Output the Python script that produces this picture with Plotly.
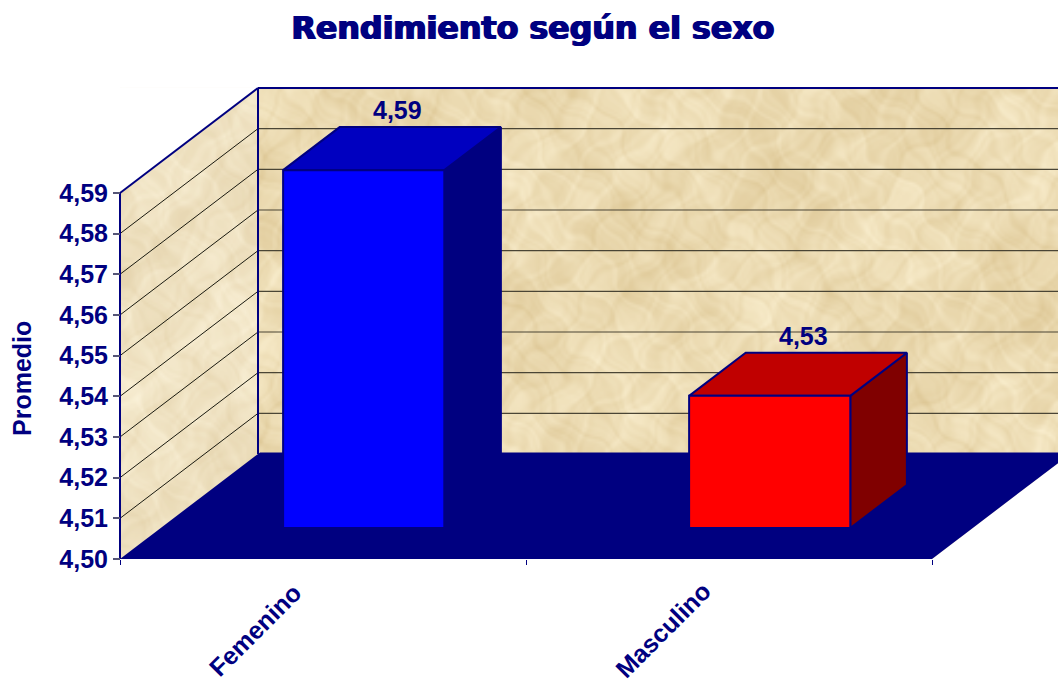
import base64
import struct
import zlib

import numpy as np
import plotly.graph_objects as go

categories = ["Femenino", "Masculino"]
values = [4.588, 4.5325]
value_labels = ["4,59", "4,53"]
front_colors = ["#0000FF", "#FF0000"]
top_colors = ["#0000C0", "#C00000"]
side_colors = ["#000080", "#800000"]
y_ticks = [4.50, 4.51, 4.52, 4.53, 4.54, 4.55, 4.56, 4.57, 4.58, 4.59]

NAVY = "#000080"
BASE, TOP = y_ticks[0], y_ticks[-1]
W, H = 1058, 684
PX_X = 406.0           # pixels per category
PX_Y = 4067.0          # pixels per value unit
DX, DY = 138 / PX_X, 105 / PX_Y   # full-depth oblique shift in axis units
BAR_W = 0.397
D0, D1 = 0.295, 0.705  # bar depth extent
FLOOR_D = 1.015
X0 = -120 / PX_X
X1 = (W - 120) / PX_X
Y1 = BASE + 559 / PX_Y


def parchment_uri(w=400, h=200):
    """Decorative mottled paper backdrop for the walls, built from layered waves."""
    yy, xx = np.mgrid[0:h, 0:w].astype(float)
    u = xx + 2.5 * np.sin(yy * 0.23 + 1.1) + 1.5 * np.sin(xx * 0.37 + yy * 0.11)
    v = yy + 2.5 * np.sin(xx * 0.19 + 0.4) + 1.5 * np.cos(yy * 0.41 - xx * 0.09)
    n = np.zeros_like(u)
    for a, fx, fy, ph in [(0.7, 0.031, 0.057, 0.3), (0.6, 0.083, -0.049, 2.1), (0.6, 0.137, 0.171, 4.0),
                          (0.5, -0.233, 0.197, 1.2), (0.5, 0.349, 0.283, 5.1), (0.45, 0.531, -0.437, 0.7),
                          (0.4, 0.713, 0.619, 3.3), (0.35, -0.887, 0.741, 2.6), (0.3, 1.171, 0.953, 1.9),
                          (0.3, -1.373, 1.127, 4.4)]:
        n += a * np.sin(fx * u + fy * v + ph)
    n = n / n.std()
    base = np.array([236, 219, 178], float)
    tint = np.array([4.0, 5.5, 8.0])
    rgb = np.clip(base[None, None, :] + n[..., None] * tint[None, None, :], 0, 255).astype(np.uint8)
    raw = b"".join(b"\x00" + rgb[r].tobytes() for r in range(h))

    def chunk(tag, data):
        return struct.pack(">I", len(data)) + tag + data + struct.pack(">I", zlib.crc32(tag + data) & 0xFFFFFFFF)

    png = (b"\x89PNG\r\n\x1a\n" + chunk(b"IHDR", struct.pack(">IIBBBBB", w, h, 8, 2, 0, 0, 0))
           + chunk(b"IDAT", zlib.compress(raw)) + chunk(b"IEND", b""))
    return "data:image/png;base64," + base64.b64encode(png).decode()


def proj(x, y, d):
    return x + d * DX, y + d * DY


def poly(points, fill, line=None, lw=0):
    xs, ys = zip(*[proj(*p) for p in points])
    return go.Scatter(
        x=list(xs) + [xs[0]], y=list(ys) + [ys[0]], mode="lines", fill="toself",
        fillcolor=fill, line=dict(color=line or fill, width=lw), hoverinfo="skip",
        showlegend=False, cliponaxis=False,
    )


def seg(p, q, color, lw):
    a, b = proj(*p), proj(*q)
    return go.Scatter(x=[a[0], b[0]], y=[a[1], b[1]], mode="lines", hoverinfo="skip",
                      line=dict(color=color, width=lw), showlegend=False, cliponaxis=False)


n = len(categories)
fig = go.Figure()
# masks that trim the backdrop to the walls
fig.add_trace(poly([(0, TOP, 0), (0, TOP, 1), (0, TOP + DY, 0)], "#FFFFFF"))
fig.add_trace(poly([(n, BASE, 0), (n, BASE, 1), (n + 1, BASE, 0)], "#FFFFFF"))
# side wall tint, floor
fig.add_trace(poly([(0, BASE, 0), (0, TOP, 0), (0, TOP, 1), (0, BASE, 1)], "rgba(255,255,255,0.22)"))
# gridlines
for t in y_ticks[1:-1]:
    fig.add_trace(seg((0, t, 0), (0, t, 1), "#1A1A10", 1))
    fig.add_trace(seg((0, t, 1), (n + 1, t, 1), "#4A4535", 1.2))
# wall edges
fig.add_trace(seg((0, BASE, 0), (0, TOP, 0), NAVY, 2))
fig.add_trace(seg((0, TOP, 0), (0, TOP, 1), NAVY, 2))
fig.add_trace(seg((0, TOP, 1), (n + 1, TOP, 1), NAVY, 2))
fig.add_trace(seg((0, BASE, 1), (0, TOP, 1), NAVY, 2))
fig.add_trace(poly([(0, BASE, 0), (n, BASE, 0), (n, BASE, FLOOR_D), (0, BASE, FLOOR_D)], NAVY))
# bars
cat_shift = [-68, -66]
for i, v in enumerate(values):
    l, r = i + 0.5 - BAR_W / 2, i + 0.5 + BAR_W / 2
    fig.add_trace(poly([(r, BASE, D0), (r, BASE, D1), (r, v, D1), (r, v, D0)], side_colors[i], NAVY, 2))
    fig.add_trace(poly([(l, v, D0), (r, v, D0), (r, v, D1), (l, v, D1)], top_colors[i], NAVY, 2))
    fig.add_trace(poly([(l, BASE, D0), (r, BASE, D0), (r, v, D0), (l, v, D0)], front_colors[i], NAVY, 2))
    lx, ly = proj(i + 0.5, v, D1)
    fig.add_annotation(x=lx, y=ly, text=value_labels[i], showarrow=False, xshift=-23, yshift=17,
                       font=dict(family="Liberation Sans", size=25, color=NAVY, weight="bold"))
    fig.add_annotation(x=i + 0.5, y=BASE, text=categories[i], showarrow=False, textangle=-45,
                       xshift=cat_shift[i], yshift=-71,
                       font=dict(family="Liberation Sans", size=25, color=NAVY, weight="bold"))

fig.add_layout_image(dict(source=parchment_uri(), xref="x", yref="y", x=0, y=TOP + DY,
                          sizex=X1, sizey=TOP + DY - BASE, sizing="stretch", layer="below",
                          xanchor="left", yanchor="top"))

fig.update_layout(
    width=W, height=H, autosize=False, margin=dict(l=0, r=0, t=0, b=0, autoexpand=False),
    paper_bgcolor="white", plot_bgcolor="white", separators=", ", showlegend=False,
    font=dict(family="Liberation Sans", size=25, color=NAVY, weight="bold"),
    title=dict(text="<b>Rendimiento según el sexo</b>", x=533 / W, xanchor="center", y=1 - 28 / H,
               yanchor="middle", automargin=False,
               font=dict(family="DejaVu Sans", size=31.7, color=NAVY,
                         shadow="0.9px 0 0 #000080, -0.9px 0 0 #000080")),
    xaxis=dict(domain=[0, 1], range=[X0, X1], showgrid=False, zeroline=False, automargin=False,
               tickvals=[i + 0.5 for i in range(n)], ticks="", showline=False, showticklabels=False,
               minor=dict(tickvals=list(range(n + 1)), ticks="outside", ticklen=5, tickwidth=1, tickcolor=NAVY)),
    yaxis=dict(domain=[125 / H, 1], range=[BASE, Y1], anchor="free", position=120 / W, automargin=False,
               tickvals=y_ticks, tickformat=".2f", ticks="outside", ticklen=7, tickwidth=1.5,
               tickcolor="#555577", showgrid=False, zeroline=False, showline=False, side="left"),
)
fig.add_annotation(x=22 / W, xref="paper", y=1 - 379 / H, yref="paper", showarrow=False,
                   xanchor="center", yanchor="middle",
                   text="Promedio", textangle=-90,
                   font=dict(size=25, color=NAVY, family="Liberation Sans", weight="bold"))
fig.write_html("out.html", config={"displayModeBar": False},
               post_script="document.body.style.margin='0';")
